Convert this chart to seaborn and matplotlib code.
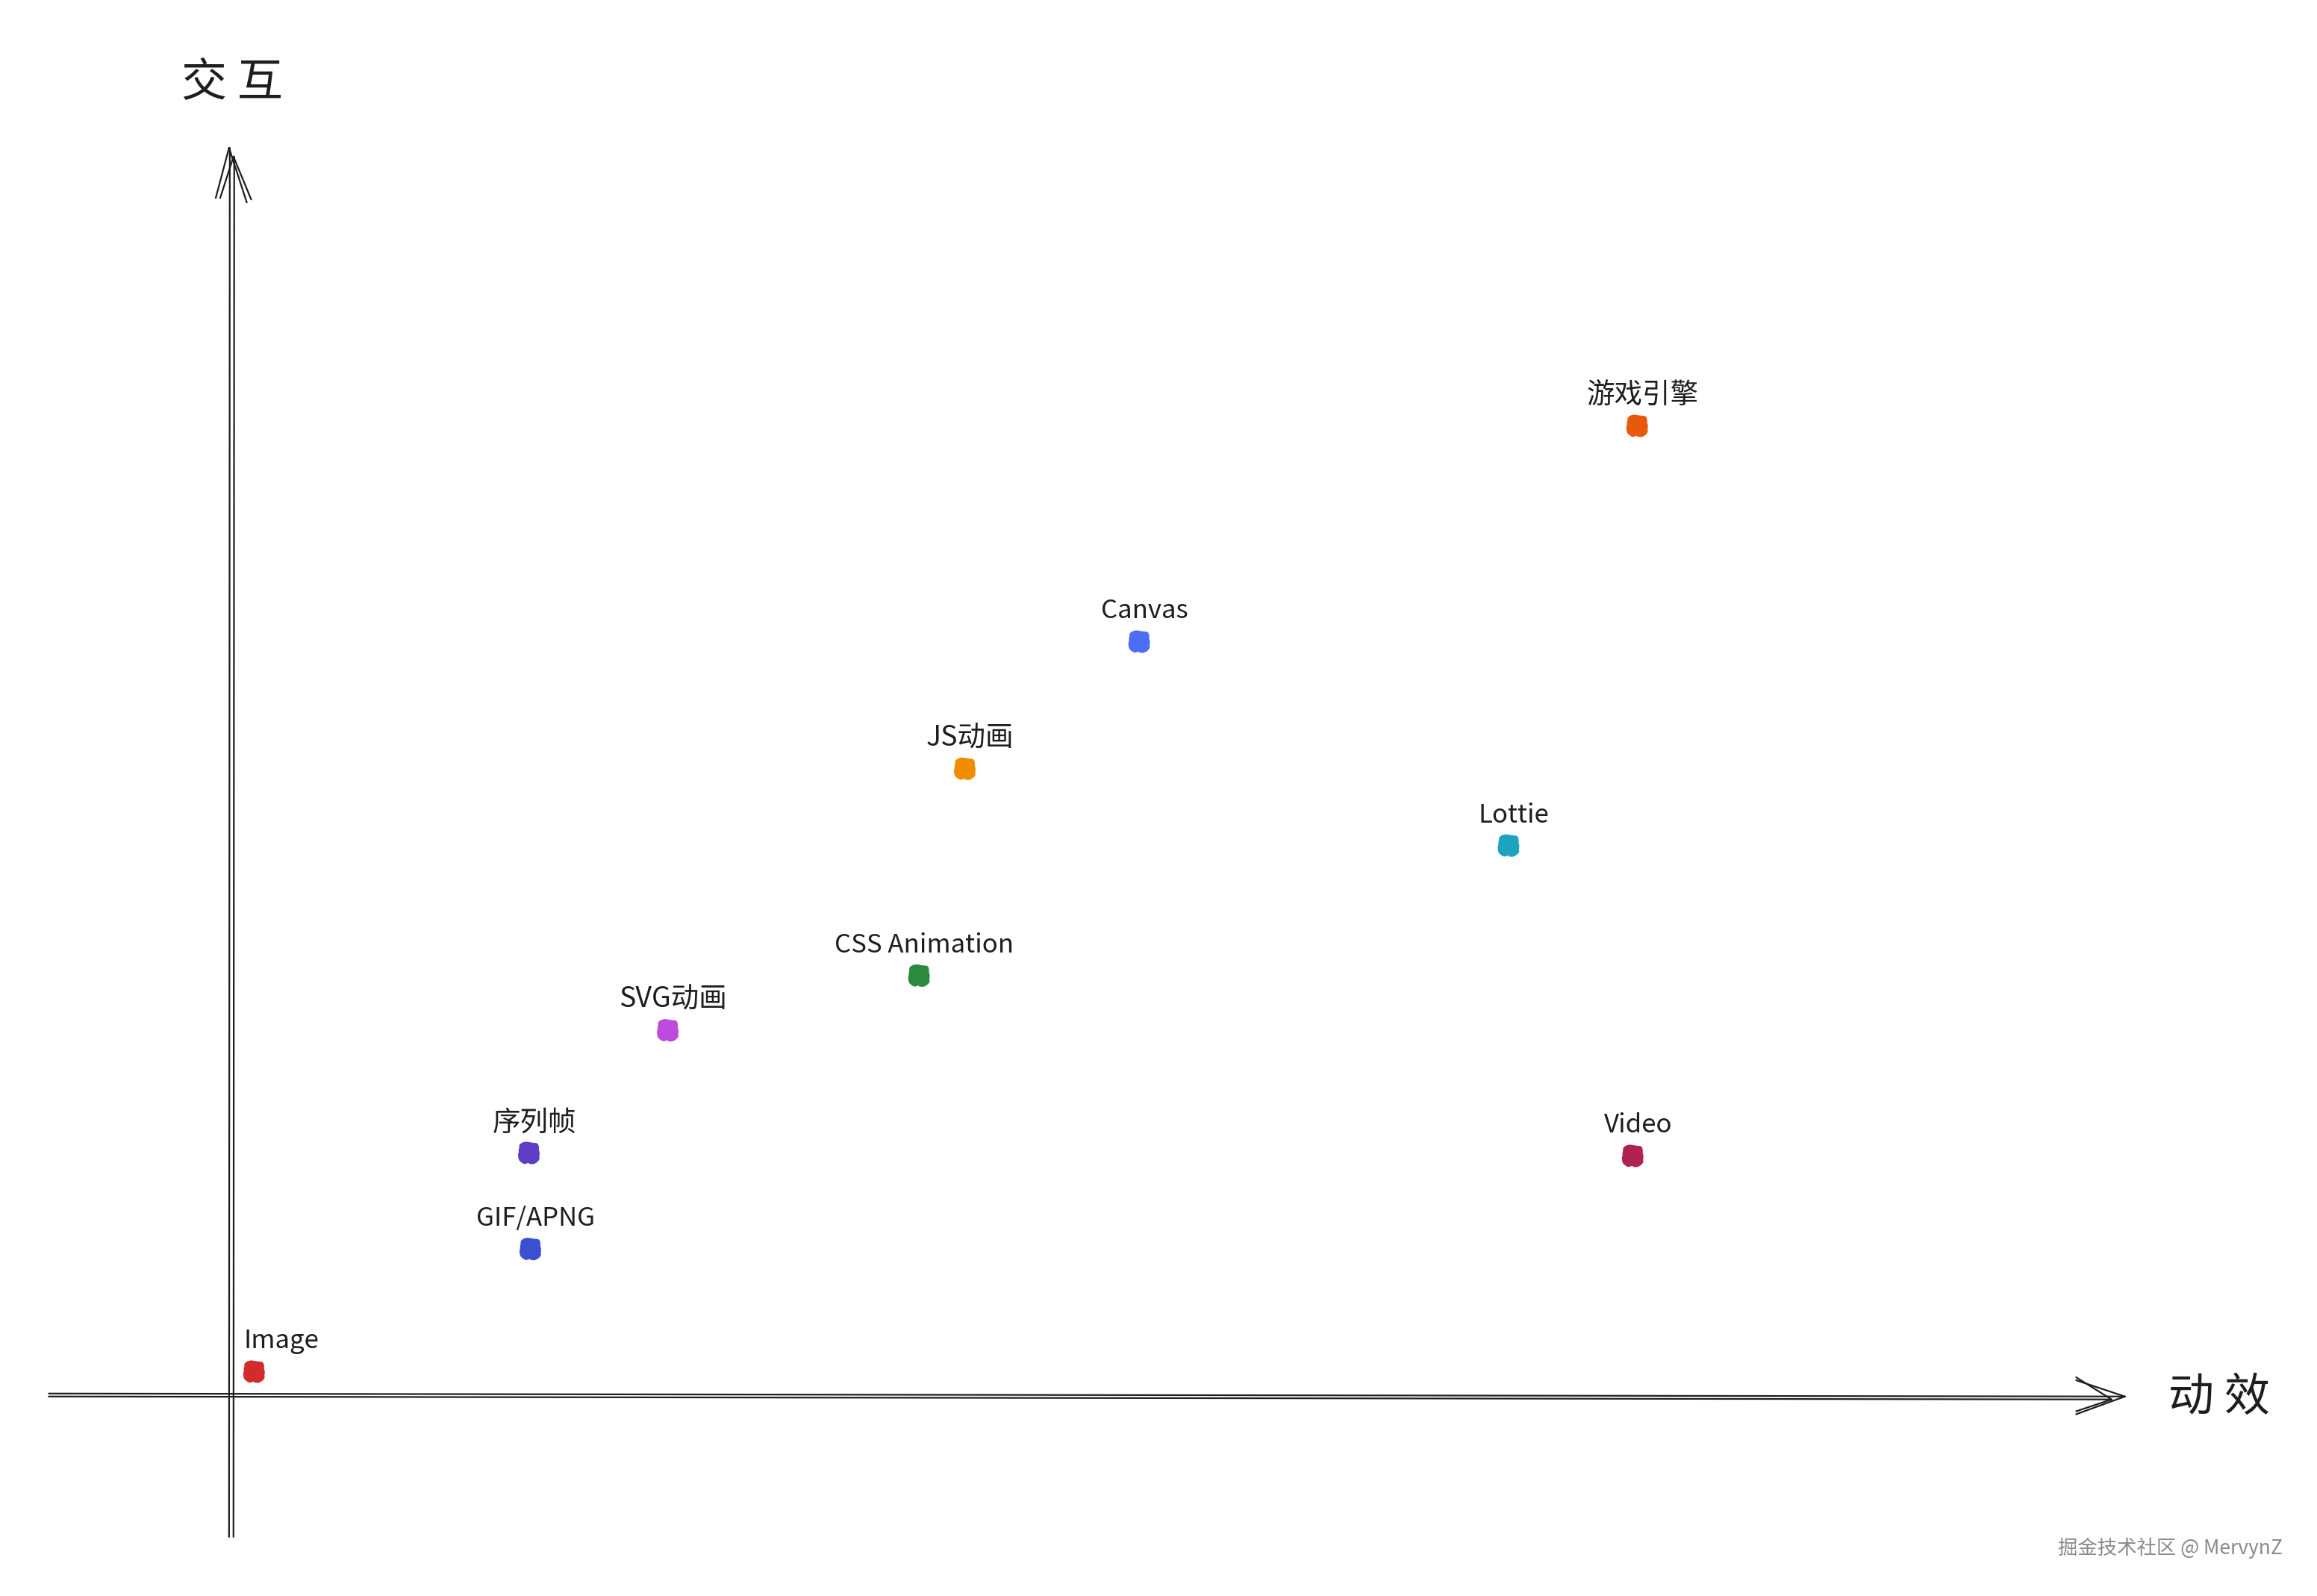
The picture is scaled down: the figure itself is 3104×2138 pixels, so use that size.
import numpy as np
import pandas as pd
import matplotlib
matplotlib.use('Agg')
import matplotlib.pyplot as plt
import seaborn as sns

# 数据：动效(x) / 交互(y) 的相对得分
names = ['Image', 'GIF/APNG', '序列帧', 'SVG动画', 'CSS Animation',
         'JS动画', 'Canvas', 'Lottie', 'Video', '游戏引擎']
dongxiao = [1.7, 20.4, 20.3, 29.7, 46.7, 49.8, 61.6, 86.6, 95.0, 95.3]
jiaohu = [1.6, 9.9, 16.4, 24.7, 28.4, 42.4, 51.0, 37.2, 16.2, 65.6]
colors = ['#d12b2b', '#3b4fd1', '#5f3dc4', '#be4bdb', '#2b8a3e',
          '#f08c00', '#4c6ef5', '#1ba3c0', '#b0224f', '#e8590c']

df = pd.DataFrame({'name': names, 'x': dongxiao, 'y': jiaohu})

sns.set_theme(style='white')
plt.rcParams['font.family'] = ['Noto Sans CJK SC', 'DejaVu Sans']

fig = plt.figure(figsize=(31.04, 21.38), dpi=100)
ax = fig.add_axes([0, 0, 1, 1])
ax.set_xlim(-15.5, 141.3)
ax.set_ylim(-13.6, 94.4)
ax.axis('off')

# 手绘风格坐标轴（双笔画）
stroke = dict(color='#1e1e1e', lw=1.6, solid_capstyle='round')
for dx, dy in [(0, 0), (0.3, 0.2)]:
    # 竖轴
    ax.plot([0 + dx, 0.05 + dx], [-9.6, 84.4 - dy * 3], **stroke)
    ax.plot([0 + dx, -0.9 + dx], [84.4 - dy * 3, 81.0], **stroke)
    ax.plot([0 + dx, 1.2 + dx], [84.4 - dy * 3, 80.7 + dy], **stroke)
    # 横轴
    ax.plot([-12.2, 128.3 - dx * 3], [0.1 - dy, -0.1 - dy], **stroke)
    ax.plot([128.3 - dx * 3, 125.0], [-0.1 - dy, 1.0 + dy], **stroke)
    ax.plot([128.3 - dx * 3, 125.0], [-0.1 - dy, -1.3 + dy], **stroke)

ax.text(0.2, 88.8, '交 互', fontsize=44, ha='center', va='center', color='#1e1e1e')
ax.text(134.7, -0.2, '动 效', fontsize=44, ha='center', va='center', color='#1e1e1e')

# 散点
sns.scatterplot(data=df, x='x', y='y', hue='name', palette=colors,
                s=480, edgecolor='none', legend=False, ax=ax, zorder=3)
ax.collections[-1].set_sketch_params(scale=1.5, length=30, randomness=6)

# 标签
for _, row in df.iterrows():
    cjk = any(ord(c) > 0x2e80 for c in row['name'])
    size = 27 if cjk else 25
    if row['name'] == 'Image':
        ax.annotate(row['name'], (row['x'], row['y']), xytext=(-10, 29),
                    textcoords='offset points', ha='left', va='center',
                    fontsize=size, color='#1e1e1e')
    else:
        ax.annotate(row['name'], (row['x'], row['y']), xytext=(5, 29),
                    textcoords='offset points', ha='center', va='center',
                    fontsize=size, color='#1e1e1e')

fig.text(0.985, 0.030, '掘金技术社区 @ MervynZ', fontsize=19, ha='right',
         va='center', color='#8a8a8a')

fig.savefig('out.png', dpi=100, facecolor='white')
